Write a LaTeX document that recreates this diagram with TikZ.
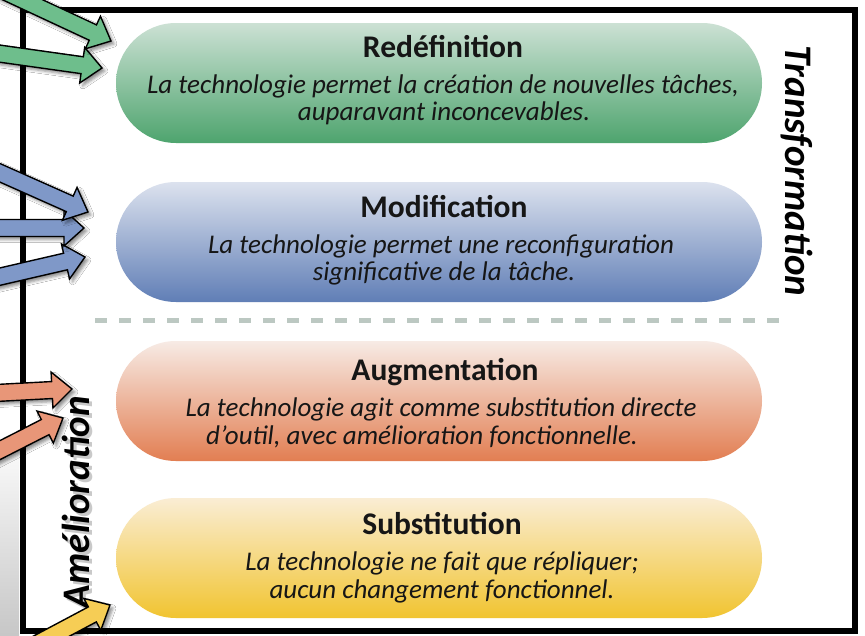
\documentclass[tikz,border=0pt]{standalone}
\usepackage{fontspec}
\setmainfont{Carlito}
\usetikzlibrary{shapes.misc,shadows.blur}
\definecolor{txt}{RGB}{22,22,22}
\definecolor{gTop}{RGB}{204,225,212}
\definecolor{gBot}{RGB}{78,164,110}
\definecolor{bTop}{RGB}{220,226,238}
\definecolor{bBot}{RGB}{96,126,182}
\definecolor{oTop}{RGB}{247,235,229}
\definecolor{oBot}{RGB}{226,126,82}
\definecolor{yTop}{RGB}{250,237,212}
\definecolor{yBot}{RGB}{241,196,48}
\definecolor{arrG}{RGB}{110,190,140}
\definecolor{arrB}{RGB}{127,152,200}
\definecolor{arrO}{RGB}{232,150,120}
\definecolor{arrY}{RGB}{246,205,85}
\definecolor{dashcol}{RGB}{188,200,194}
\newcommand\blockarrow[4]{%
  \begin{scope}[shift={(#1,#2)},rotate=#3]
    \draw[arrowbody,fill=#4] (0,0) -- (-20,-18) -- (-20,-8.5) -- (-240,-8.5)
      -- (-240,8.5) -- (-20,8.5) -- (-20,18) -- cycle;
  \end{scope}}
\tikzset{
  pill/.style={rounded rectangle, minimum width=646pt, minimum height=120pt,
    inner sep=0pt, draw=none},
  titletext/.style={anchor=base, font=\bfseries\fontsize{31.5}{36}\selectfont,
    text=txt, inner sep=0pt},
  desctext/.style={anchor=base, font=\itshape\fontsize{27}{28}\selectfont,
    text=txt, inner sep=0pt},
  sidelabel/.style={font=\bfseries\itshape\fontsize{39}{42}\selectfont,
    text=black, inner sep=0pt, anchor=base},
  arrowbody/.style={draw=black, line width=1.4pt, line join=miter,
    blur shadow={shadow xshift=3pt, shadow yshift=-3pt,
      shadow blur radius=3pt, shadow opacity=45}},
  framebox/.style={draw=black, line width=6pt},
  dashsep/.style={draw=dashcol, line width=5pt, dash pattern=on 12pt off 12pt}
}
\begin{document}
\begin{tikzpicture}[x=1pt,y=-1pt]
\useasboundingbox (0,0) rectangle (865,635);
\clip (0,0) rectangle (865,635);
\fill[white] (0,0) rectangle (865,635);
% grey area at lower left
\shade[top color=white, bottom color=black!22] (0,430) rectangle (19,635);
% frame
\draw[framebox] (22.5,9.5) rectangle (855,631);
% pills
\node[pill, top color=gTop, bottom color=gBot] (redef) at (439,83) {};
\node[pill, top color=bTop, bottom color=bBot] (modif) at (439,242) {};
\node[pill, top color=oTop, bottom color=oBot] (augm) at (439,401) {};
\node[pill, top color=yTop, bottom color=yBot] (subst) at (439,558) {};
% separator
\draw[dashsep] (95,320) -- (782,320);
% texts
\node[titletext] (redefT) at (443,57) {Redéfinition};
\node[desctext] (redefA) at (443,93) {La technologie permet la création de nouvelles tâches,};
\node[desctext] (redefB) at (444,120) {auparavant inconcevables.};
\node[titletext] (modifT) at (444,217) {Modification};
\node[desctext] (modifA) at (441,253) {La technologie permet une reconfiguration};
\node[desctext] (modifB) at (444,280) {significative de la tâche.};
\node[titletext] (augmT) at (445,380) {Augmentation};
\node[desctext] (augmA) at (441,416) {La technologie agit comme substitution directe};
\node[desctext] (augmB) at (422,444) {d’outil, avec amélioration fonctionnelle.};
\node[titletext] (substT) at (442,534) {Substitution};
\node[desctext] (substA) at (442,570) {La technologie ne fait que répliquer;};
\node[desctext] (substB) at (442,598) {aucun changement fonctionnel.};
% side labels
\node[sidelabel, rotate=-90] (transf) at (785,171) {Transformation};
\node[sidelabel, rotate=90, text=black!60, opacity=0.35] (amelShadow) at (92,505) {Amélioration};
\node[sidelabel, rotate=90] (amel) at (89,502) {Amélioration};
% arrows
\blockarrow{102}{68}{-8}{arrG}
\blockarrow{111}{41}{-25}{arrG}
\blockarrow{85}{257}{13}{arrB}
\blockarrow{84}{228}{0}{arrB}
\blockarrow{88}{212}{-24}{arrB}
\blockarrow{63}{418}{27}{arrO}
\blockarrow{72}{389}{3}{arrO}
\blockarrow{110}{605}{28}{arrY}
\end{tikzpicture}
\end{document}
